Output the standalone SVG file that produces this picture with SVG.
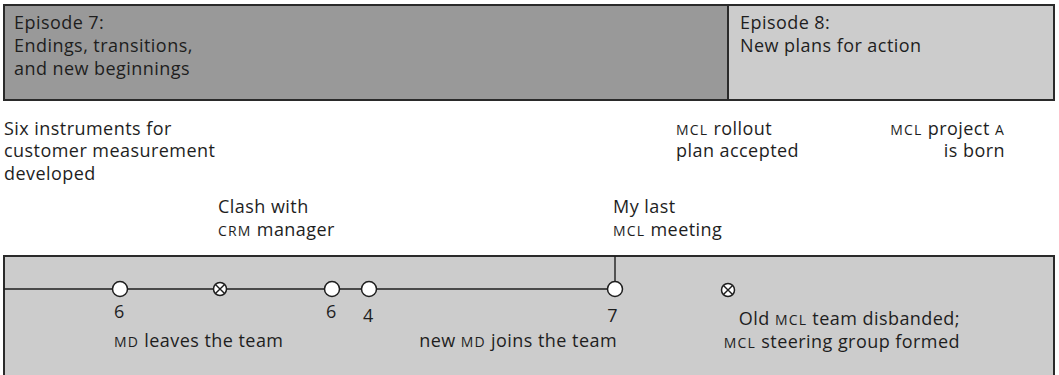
<svg xmlns="http://www.w3.org/2000/svg" width="1059" height="375" viewBox="0 0 1059 375">
  <style>
    text { font-family: "Open Sans", "Noto Sans", "Liberation Sans", sans-serif; font-size: 18px; letter-spacing: 0.45px; fill: #1e1e1e; }
    .sc { font-size: 14px; letter-spacing: 1.2px; }
    .end { text-anchor: end; }
    .band { stroke: #2a2a2a; stroke-width: 2; }
    .line { stroke: #1e1e1e; stroke-width: 1.4; fill: none; }
    .dot { fill: #ffffff; stroke: #1e1e1e; stroke-width: 1.5; }
  </style>
  <defs>
    <g id="cross">
      <circle class="dot" cx="0" cy="0" r="6.5"/>
      <path d="M-4.3,-4.3 L4.3,4.3 M4.3,-4.3 L-4.3,4.3" stroke="#1e1e1e" stroke-width="1.4"/>
    </g>
  </defs>
  <rect width="1059" height="375" fill="#ffffff"/>

  <!-- episode bands -->
  <g id="episode7">
    <rect class="band" x="4" y="5" width="724" height="95" fill="#999999"/>
    <text x="14" y="29">Episode 7:</text>
    <text x="14" y="52">Endings, transitions,</text>
    <text x="14" y="75">and new beginnings</text>
  </g>
  <g id="episode8">
    <rect class="band" x="728" y="5" width="326" height="95" fill="#cccccc"/>
    <text x="740" y="29">Episode 8:</text>
    <text x="740" y="52">New plans for action</text>
  </g>

  <!-- event labels above the timeline -->
  <g id="instruments">
    <text x="4" y="135">Six instruments for</text>
    <text x="4" y="157">customer measurement</text>
    <text x="4" y="180">developed</text>
  </g>
  <g id="rollout">
    <text x="676" y="135"><tspan class="sc">MCL</tspan> rollout</text>
    <text x="676" y="157">plan accepted</text>
  </g>
  <g id="projectA">
    <text class="end" x="1005" y="135"><tspan class="sc">MCL</tspan> project <tspan class="sc">A</tspan></text>
    <text class="end" x="1005" y="157">is born</text>
  </g>
  <g id="clash">
    <text x="218" y="213">Clash with</text>
    <text x="218" y="236"><tspan class="sc">CRM</tspan> manager</text>
  </g>
  <g id="lastMeeting">
    <text x="613" y="213">My last</text>
    <text x="613" y="236"><tspan class="sc">MCL</tspan> meeting</text>
  </g>

  <!-- timeline band -->
  <g id="timeline">
    <rect class="band" x="4" y="256" width="1050" height="130" fill="#cccccc"/>
  </g>

  <!-- connectors -->
  <g id="connectors">
    <line class="line" x1="4" y1="289" x2="609" y2="289"/>
    <line class="line" x1="615" y1="256" x2="615" y2="282"/>
  </g>

  <!-- timeline events -->
  <g id="ev1">
    <circle class="dot" cx="120" cy="289" r="7.5"/>
    <text x="114" y="318">6</text>
    <text x="114" y="347"><tspan class="sc">MD</tspan> leaves the team</text>
  </g>
  <g id="ev2">
    <use href="#cross" x="220" y="289"/>
  </g>
  <g id="ev3">
    <circle class="dot" cx="332" cy="289" r="7.5"/>
    <text x="326" y="318">6</text>
  </g>
  <g id="ev4">
    <circle class="dot" cx="369" cy="289" r="7.5"/>
    <text x="363" y="322">4</text>
  </g>
  <g id="ev5">
    <circle class="dot" cx="615" cy="289" r="7.5"/>
    <text class="end" x="618" y="322">7</text>
    <text class="end" x="617" y="347">new <tspan class="sc">MD</tspan> joins the team</text>
  </g>
  <g id="ev6">
    <use href="#cross" x="728" y="290"/>
    <text class="end" x="960" y="325">Old <tspan class="sc">MCL</tspan> team disbanded;</text>
    <text class="end" x="960" y="348"><tspan class="sc">MCL</tspan> steering group formed</text>
  </g>
</svg>
